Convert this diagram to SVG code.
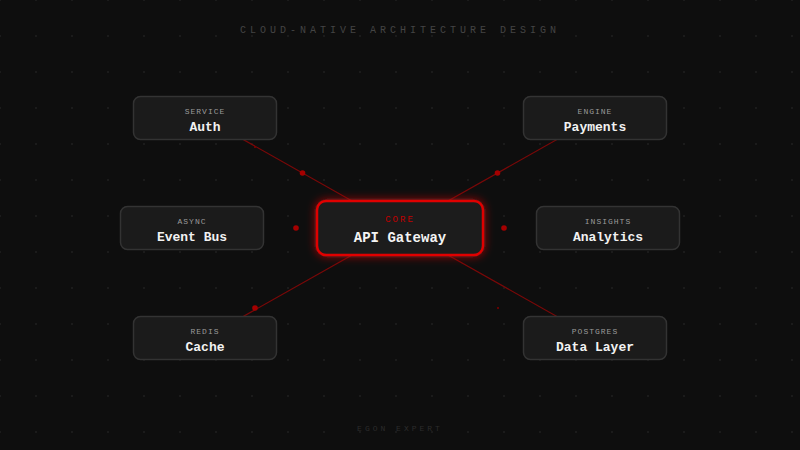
<svg xmlns="http://www.w3.org/2000/svg" width="800" height="450" viewBox="0 0 800 450">
<defs>
<pattern id="grid" x="0" y="0" width="36" height="36" patternUnits="userSpaceOnUse">
<circle cx="0" cy="0" r="0.8" fill="#2a2a2a"/>
<circle cx="36" cy="0" r="0.8" fill="#2a2a2a"/>
<circle cx="0" cy="36" r="0.8" fill="#2a2a2a"/>
<circle cx="36" cy="36" r="0.8" fill="#2a2a2a"/>
</pattern>
<filter id="glow" x="-30%" y="-60%" width="160%" height="220%">
<feGaussianBlur in="SourceGraphic" stdDeviation="4" result="b"/>
<feMerge><feMergeNode in="b"/><feMergeNode in="SourceGraphic"/></feMerge>
</filter>
</defs>
<style>
.node rect{fill:#1b1b1b;stroke:#333;stroke-width:1.5}
.lbl{font-family:"Liberation Mono","DejaVu Sans Mono",monospace;font-size:8px;letter-spacing:1px;fill:#9a9a9a;text-anchor:middle}
.ttl{font-family:"Liberation Mono","DejaVu Sans Mono",monospace;font-size:13px;font-weight:bold;fill:#f2f2f2;text-anchor:middle}
.conn line{stroke:#7a0808;stroke-width:1.2}
.dot{fill:#a50000}
.sdot{fill:#7a0000}
</style>
<rect width="800" height="450" fill="#0e0e0e"/>
<rect width="800" height="450" fill="url(#grid)"/>
<text x="400" y="33" font-family="Liberation Mono, DejaVu Sans Mono, monospace" font-size="10" letter-spacing="4" fill="#444" text-anchor="middle">CLOUD-NATIVE ARCHITECTURE DESIGN</text>
<text x="400" y="431" font-family="Liberation Mono, DejaVu Sans Mono, monospace" font-size="8" letter-spacing="3" fill="#2c2c2c" text-anchor="middle">EGON EXPERT</text>
<g id="connectors" class="conn">
<line x1="205" y1="118" x2="400" y2="228"/>
<line x1="595" y1="118" x2="400" y2="228"/>
<line x1="205" y1="338" x2="400" y2="228"/>
<line x1="595" y1="338" x2="400" y2="228"/>
<circle class="dot" cx="302.5" cy="173" r="2.8"/>
<circle class="sdot" cx="255" cy="147" r="1.1"/>
<circle class="dot" cx="497.5" cy="173" r="2.8"/>
<circle class="dot" cx="255" cy="308" r="2.8"/>
<circle class="sdot" cx="498" cy="308" r="1.1"/>
<circle class="dot" cx="296" cy="228" r="2.8"/>
<circle class="dot" cx="504" cy="228" r="2.8"/>
</g>
<g id="auth" class="node">
<rect x="133.5" y="96.5" width="143" height="43" rx="7"/>
<text class="lbl" x="205" y="114">SERVICE</text>
<text class="ttl" x="205" y="131">Auth</text>
</g>
<g id="payments" class="node">
<rect x="523.5" y="96.5" width="143" height="43" rx="7"/>
<text class="lbl" x="595" y="114">ENGINE</text>
<text class="ttl" x="595" y="131">Payments</text>
</g>
<g id="eventbus" class="node">
<rect x="120.5" y="206.5" width="143" height="43" rx="7"/>
<text class="lbl" x="192" y="224">ASYNC</text>
<text class="ttl" x="192" y="241">Event Bus</text>
</g>
<g id="analytics" class="node">
<rect x="536.5" y="206.5" width="143" height="43" rx="7"/>
<text class="lbl" x="608" y="224">INSIGHTS</text>
<text class="ttl" x="608" y="241">Analytics</text>
</g>
<g id="cache" class="node">
<rect x="133.5" y="316.5" width="143" height="43" rx="7"/>
<text class="lbl" x="205" y="334">REDIS</text>
<text class="ttl" x="205" y="351">Cache</text>
</g>
<g id="datalayer" class="node">
<rect x="523.5" y="316.5" width="143" height="43" rx="7"/>
<text class="lbl" x="595" y="334">POSTGRES</text>
<text class="ttl" x="595" y="351">Data Layer</text>
</g>
<g id="gateway">
<rect x="317" y="201" width="166" height="54" rx="9" fill="#1c1c1c" stroke="#e00000" stroke-width="2.5" filter="url(#glow)"/>
<text x="400" y="222" font-family="Liberation Mono, DejaVu Sans Mono, monospace" font-size="9" letter-spacing="2" fill="#c00000" text-anchor="middle">CORE</text>
<text x="400" y="242" font-family="Liberation Mono, DejaVu Sans Mono, monospace" font-size="14" font-weight="bold" fill="#f4f4f4" text-anchor="middle">API Gateway</text>
</g>
</svg>
